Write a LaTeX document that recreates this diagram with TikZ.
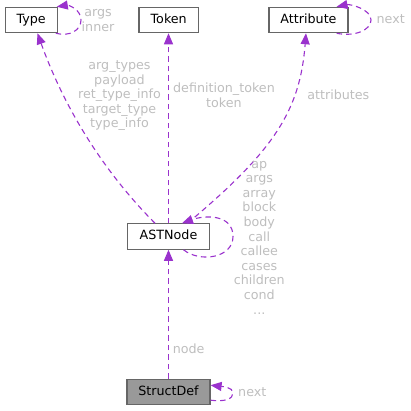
\documentclass[tikz,border=0pt]{standalone}
\usepackage{fontspec}
\setmainfont{DejaVu Sans}
\usetikzlibrary{arrows.meta,calc}
\definecolor{edgecol}{HTML}{9A32CD}
\definecolor{boxline}{HTML}{666666}
\definecolor{lblcol}{HTML}{BEBEBE}
\definecolor{sdfill}{HTML}{999999}
\tikzset{
  box/.style={draw=boxline, line width=1.2bp, fill=white, inner sep=0pt,
    minimum height=25.3bp, text height=9.5bp, text depth=3.1bp,
    font=\fontsize{12.7bp}{14.6bp}\selectfont, text=black},
  lbl/.style={inner sep=0pt, align=center, text=lblcol,
    font=\fontsize{12.7bp}{14.6bp}\selectfont},
  edge/.style={draw=edgecol, line width=1.1bp, dash pattern=on 5.5bp off 4bp,
    -{Triangle[length=11bp,width=9bp,fill=edgecol]}}
}
\begin{document}
\begin{tikzpicture}[x=1bp,y=-1bp]
\useasboundingbox (0,0) rectangle (411,411);
% nodes
\node[box, minimum width=52bp] (type) at (31.2,20) {Type};
\node[box, minimum width=59.3bp] (token) at (168.7,20) {Token};
\node[box, minimum width=79bp] (attr) at (308.5,20) {Attribute};
\node[box, minimum width=81.6bp] (ast) at (168.5,236.5) {ASTNode};
\node[box, fill=sdfill, minimum width=83bp] (sd) at (168.5,392.2) {StructDef};
% edges
\draw[edge] ([xshift=-13.5bp]ast.north) .. controls (105,173) and (65,110) .. ([xshift=6.3bp]type.south);
\draw[edge] (ast.north) -- (ast.north |- token.south);
\draw[edge] ([xshift=19bp]ast.north) .. controls (275,150) and (300,110) .. ([xshift=-2.5bp]attr.south);
\draw[edge] ([xshift=15bp]ast.south) .. controls (200,263) and (233,258) .. (233,236.5) .. controls (233,214) and (205,215) .. ([xshift=13.5bp]ast.north);
\draw[edge] (sd.north) -- (ast.south);
\draw[edge] ([xshift=-2bp]type.south east) .. controls (70,37) and (81,30) .. (81,20) .. controls (81,9) and (68,5) .. ([xshift=-1bp]type.north east);
\draw[edge] ([xshift=-12bp]attr.south east) .. controls (355,37) and (371,30) .. (371,20) .. controls (371,9) and (350,4) .. ([xshift=-12bp]attr.north east);
\draw[edge] ($(sd.east)+(0,8)$) .. controls (225,402) and (233,399) .. (233,393) .. controls (233,387) and (222,386.5) .. ($(sd.east)+(0,-7)$);
% labels
\node[lbl] (l1) at (119.5,95.8) {arg\_types\\payload\\ret\_type\_info\\target\_type\\type\_info};
\node[lbl] (l2) at (224,95) {definition\_token\\token};
\node[lbl] (l3) at (338.3,95) {attributes};
\node[lbl] (l4) at (259.3,237.5) {ap\\args\\array\\block\\body\\call\\callee\\cases\\children\\cond\\...};
\node[lbl] (l5) at (188.7,348.5) {node};
\node[lbl] (l6) at (98,20.5) {args\\inner};
\node[lbl] (l7) at (390.7,19.5) {next};
\node[lbl] (l8) at (252.3,392.2) {next};
\end{tikzpicture}
\end{document}
